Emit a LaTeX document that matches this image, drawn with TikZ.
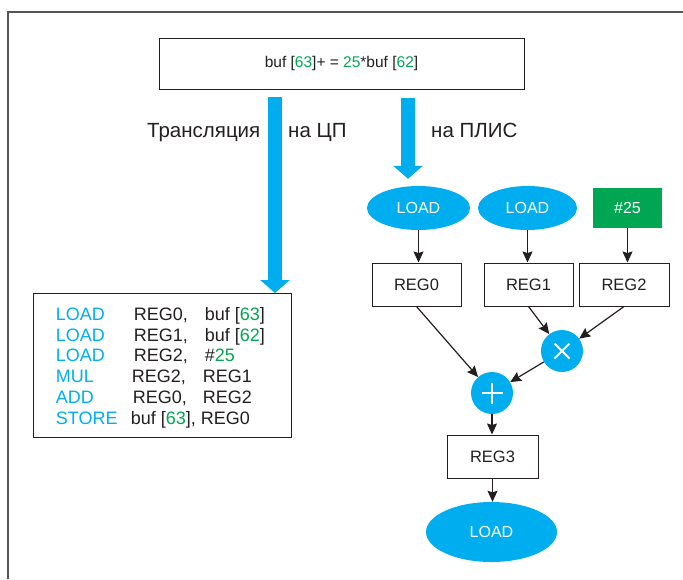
\documentclass[tikz,border=0pt]{standalone}
\usepackage{fontspec}
\setmainfont{Liberation Sans}
\usetikzlibrary{arrows.meta,shapes.geometric}
\definecolor{cyanblue}{HTML}{00AEEF}
\definecolor{codegreen}{HTML}{00A651}
\definecolor{ink}{HTML}{231F20}
\definecolor{framegray}{HTML}{555555}
\newcommand{\gn}[1]{\textcolor{codegreen}{#1}}
\newcommand{\op}[2]{\textcolor{cyanblue}{\makebox[#1pt][l]{#2}}}
\newcommand{\argcol}[2]{\makebox[#1pt][l]{#2}}

\begin{document}
\begin{tikzpicture}[x=1pt,y=-1pt,
  every node/.style={text=ink, inner sep=0pt},
  regbox/.style={draw=ink, line width=1pt, fill=white, minimum width=89, minimum height=43,
    font=\fontsize{16.5}{19}\selectfont},
  loadell/.style={ellipse, fill=cyanblue, text=white, minimum height=44,
    font=\fontsize{16}{19}\selectfont},
  opcircle/.style={circle, fill=cyanblue, minimum size=42},
  codeline/.style={anchor=base west, font=\fontsize{18}{21}\selectfont},
  label/.style={anchor=base west, font=\fontsize{20.5}{24}\selectfont},
  bigarrow/.style={cyanblue, line width=14pt, -{Triangle[length=13pt,width=29pt]}},
  link/.style={ink, line width=1.2pt, -{Stealth[length=11pt,width=10pt,inset=1.5pt]}},
  sign/.style={white, line width=2pt}]

\useasboundingbox (0,0) rectangle (683,579);

% open frame: left and top edges only
\draw[framegray, line width=2pt] (8,579) -- (8,12) -- (683,12);

% source statement
\node[draw=ink, line width=1pt, minimum width=365, minimum height=51,
      font=\fontsize{15.5}{18}\selectfont] (src) at (341.5,63.5)
  {buf [\gn{63}]+ = \gn{25}*buf [\gn{62}]};

% translation labels
\node[label] (lblcpu) at (147,137.5) {Трансляция};
\node[label] (lblcpu2) at (288,137.5) {на ЦП};
\node[label] (lblfpga) at (431,137.5) {на ПЛИС};

% CPU code listing
\node[draw=ink, line width=1.2pt, minimum width=258, minimum height=144, anchor=north west]
  (code) at (33,293) {};
\node[codeline] (row1) at (55.7,320.5) {\op{77.9}{LOAD}\argcol{71.1}{REG0,}buf [\gn{63}]};
\node[codeline] (row2) at (55.7,341.2) {\op{77.9}{LOAD}\argcol{71.1}{REG1,}buf [\gn{62}]};
\node[codeline] (row3) at (55.7,361.9) {\op{77.9}{LOAD}\argcol{71.1}{REG2,}\#\gn{25}};
\node[codeline] (row4) at (55.7,382.6) {\op{75.9}{MUL}\argcol{71.1}{REG2,}REG1};
\node[codeline] (row5) at (55.7,403.3) {\op{76.9}{ADD}\argcol{70.1}{REG0,}REG2};
\node[codeline] (row6) at (55.7,424.0) {\op{75}{STORE}buf [\gn{63}], REG0};

% FPGA dataflow graph
\node[loadell, minimum width=103] (ld0) at (418.5,208) {LOAD};
\node[loadell, minimum width=99] (ld1) at (527.5,208) {LOAD};
\node[fill=codegreen, text=white, minimum width=69, minimum height=40,
      font=\fontsize{16}{19}\selectfont] (c25) at (627.5,208) {\#25};

\node[regbox] (reg0) at (416.5,284.5) {REG0};
\node[regbox] (reg1) at (528.5,284.5) {REG1};
\node[regbox, minimum width=90] (reg2) at (624,284.5) {REG2};

\node[opcircle] (mul) at (562,351) {};
\node[opcircle] (add) at (492,393) {};
\draw[sign] ([shift={(-7.5pt,-7.5pt)}]mul.center) -- ([shift={(7.5pt,7.5pt)}]mul.center);
\draw[sign] ([shift={(-7.5pt,7.5pt)}]mul.center) -- ([shift={(7.5pt,-7.5pt)}]mul.center);
\draw[sign] ([xshift=-10.5pt]add.center) -- ([xshift=10.5pt]add.center);
\draw[sign] ([yshift=-10.5pt]add.center) -- ([yshift=10.5pt]add.center);

\node[regbox, minimum width=91] (reg3) at (492.5,456.5) {REG3};
\node[loadell, minimum width=131, minimum height=60] (ld2) at (491.5,532) {LOAD};

% big translation arrows
\coordinate (cpustart) at (275,97);
\coordinate (fpgastart) at (408,98);
\draw[bigarrow] (cpustart) -- (code.north -| cpustart);
\draw[bigarrow] (fpgastart) -- ([yshift=7pt]ld0.north -| fpgastart);

% graph connectors
\draw[link] (ld0.south) -- (ld0.south |- reg0.north);
\draw[link] (ld1.south) -- (ld1.south |- reg1.north);
\draw[link] (c25.south) -- (c25.south |- reg2.north);
\draw[link] (reg0.south) -- (add);
\draw[link] (reg1.south) -- (mul);
\draw[link] (reg2.south) -- (mul);
\draw[link] (mul) -- (add);
\draw[link] (add.south) -- (add.south |- reg3.north);
\draw[link] (reg3.south) -- (reg3.south |- ld2.north);
\end{tikzpicture}
\end{document}
